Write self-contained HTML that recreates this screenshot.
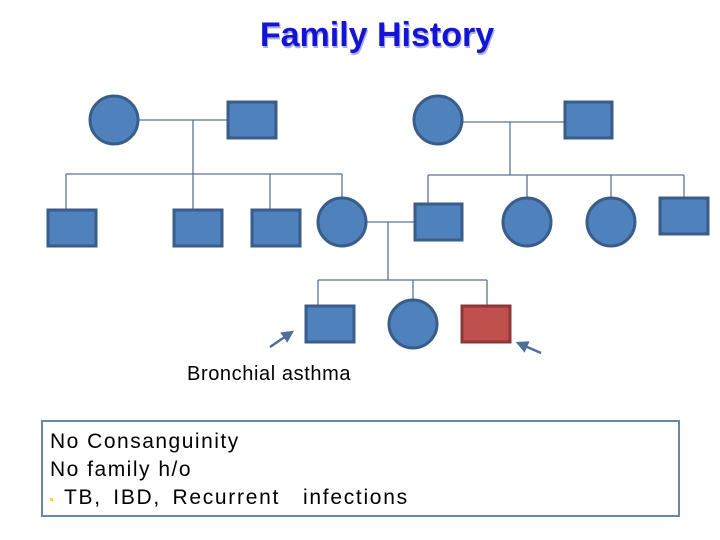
<!DOCTYPE html>
<html><head><meta charset="utf-8"><style>
html,body{margin:0;padding:0;background:#fff;}
body{width:720px;height:540px;overflow:hidden;position:relative;}
svg{position:absolute;left:0;top:0;}
</style></head><body>
<svg width="720" height="540" xmlns="http://www.w3.org/2000/svg">
<defs>
<marker id="ah" markerWidth="6" markerHeight="6" refX="4" refY="3" orient="auto" markerUnits="strokeWidth">
<path d="M0,0.5 L5,3 L0,5.5 Z" fill="#4f6f99"/>
</marker>
</defs>
<text x="378" y="48" text-anchor="middle" font-family="Liberation Sans, sans-serif" font-weight="bold" font-size="34" fill="#a8b0d8">Family History</text>
<text x="377" y="46" text-anchor="middle" font-family="Liberation Sans, sans-serif" font-weight="bold" font-size="34" fill="#1414d8">Family History</text>
<g stroke="#5a7494" stroke-width="1.3" fill="none">
<path d="M138 120H229M193 120V174M66 174H342M66 174V210M193 174V210M270 174V210M342 174V198"/>
<path d="M462 122H565M510 122V175M428 175H684M428 175V204M527 175V198M611 175V198M684 175V198"/>
<path d="M366 222H415M388 222V280M318 280H487M318 280V305M413 280V300M487 280V305"/>
</g>
<g fill="#4f81bd" stroke="#385d8a" stroke-width="3">
<circle cx="114" cy="120" r="24"/>
<rect x="228" y="102" width="48" height="36"/>
<rect x="48" y="210" width="48" height="36"/>
<rect x="174" y="210" width="48" height="36"/>
<rect x="252" y="210" width="48" height="36"/>
<circle cx="342" cy="222" r="24"/>
<circle cx="438" cy="120" r="24"/>
<rect x="565" y="102" width="47" height="36"/>
<rect x="415" y="204" width="47" height="36"/>
<circle cx="527" cy="222" r="24"/>
<circle cx="611" cy="222" r="24"/>
<rect x="660" y="198" width="48" height="36"/>
<rect x="306" y="306" width="48" height="36"/>
<circle cx="413" cy="324" r="24"/>
</g>
<rect x="462" y="306" width="48" height="36" fill="#c0504d" stroke="#8c3836" stroke-width="3"/>
<g stroke="#4f6f99" stroke-width="2.5">
<line x1="270" y1="347" x2="292" y2="332" marker-end="url(#ah)"/>
<line x1="541" y1="353" x2="518" y2="343" marker-end="url(#ah)"/>
</g>
<text x="187" y="380" font-family="Liberation Sans, sans-serif" font-size="20" letter-spacing="0.6" fill="#000">Bronchial asthma</text>
<rect x="42" y="421" width="637" height="95" fill="#fff" stroke="#6a86a8" stroke-width="2"/>
<g font-family="Liberation Sans, sans-serif" font-size="21" fill="#000">
<text x="50" y="448" letter-spacing="1.5">No Consanguinity</text>
<text x="50" y="476" letter-spacing="1.5">No family h/o</text>
<text x="64" y="504" letter-spacing="1.7" word-spacing="4">TB, IBD, Recurrent&#160; infections</text>
</g>
<rect x="50" y="498" width="3" height="3" fill="#e8e020"/>
</svg>
</body></html>
